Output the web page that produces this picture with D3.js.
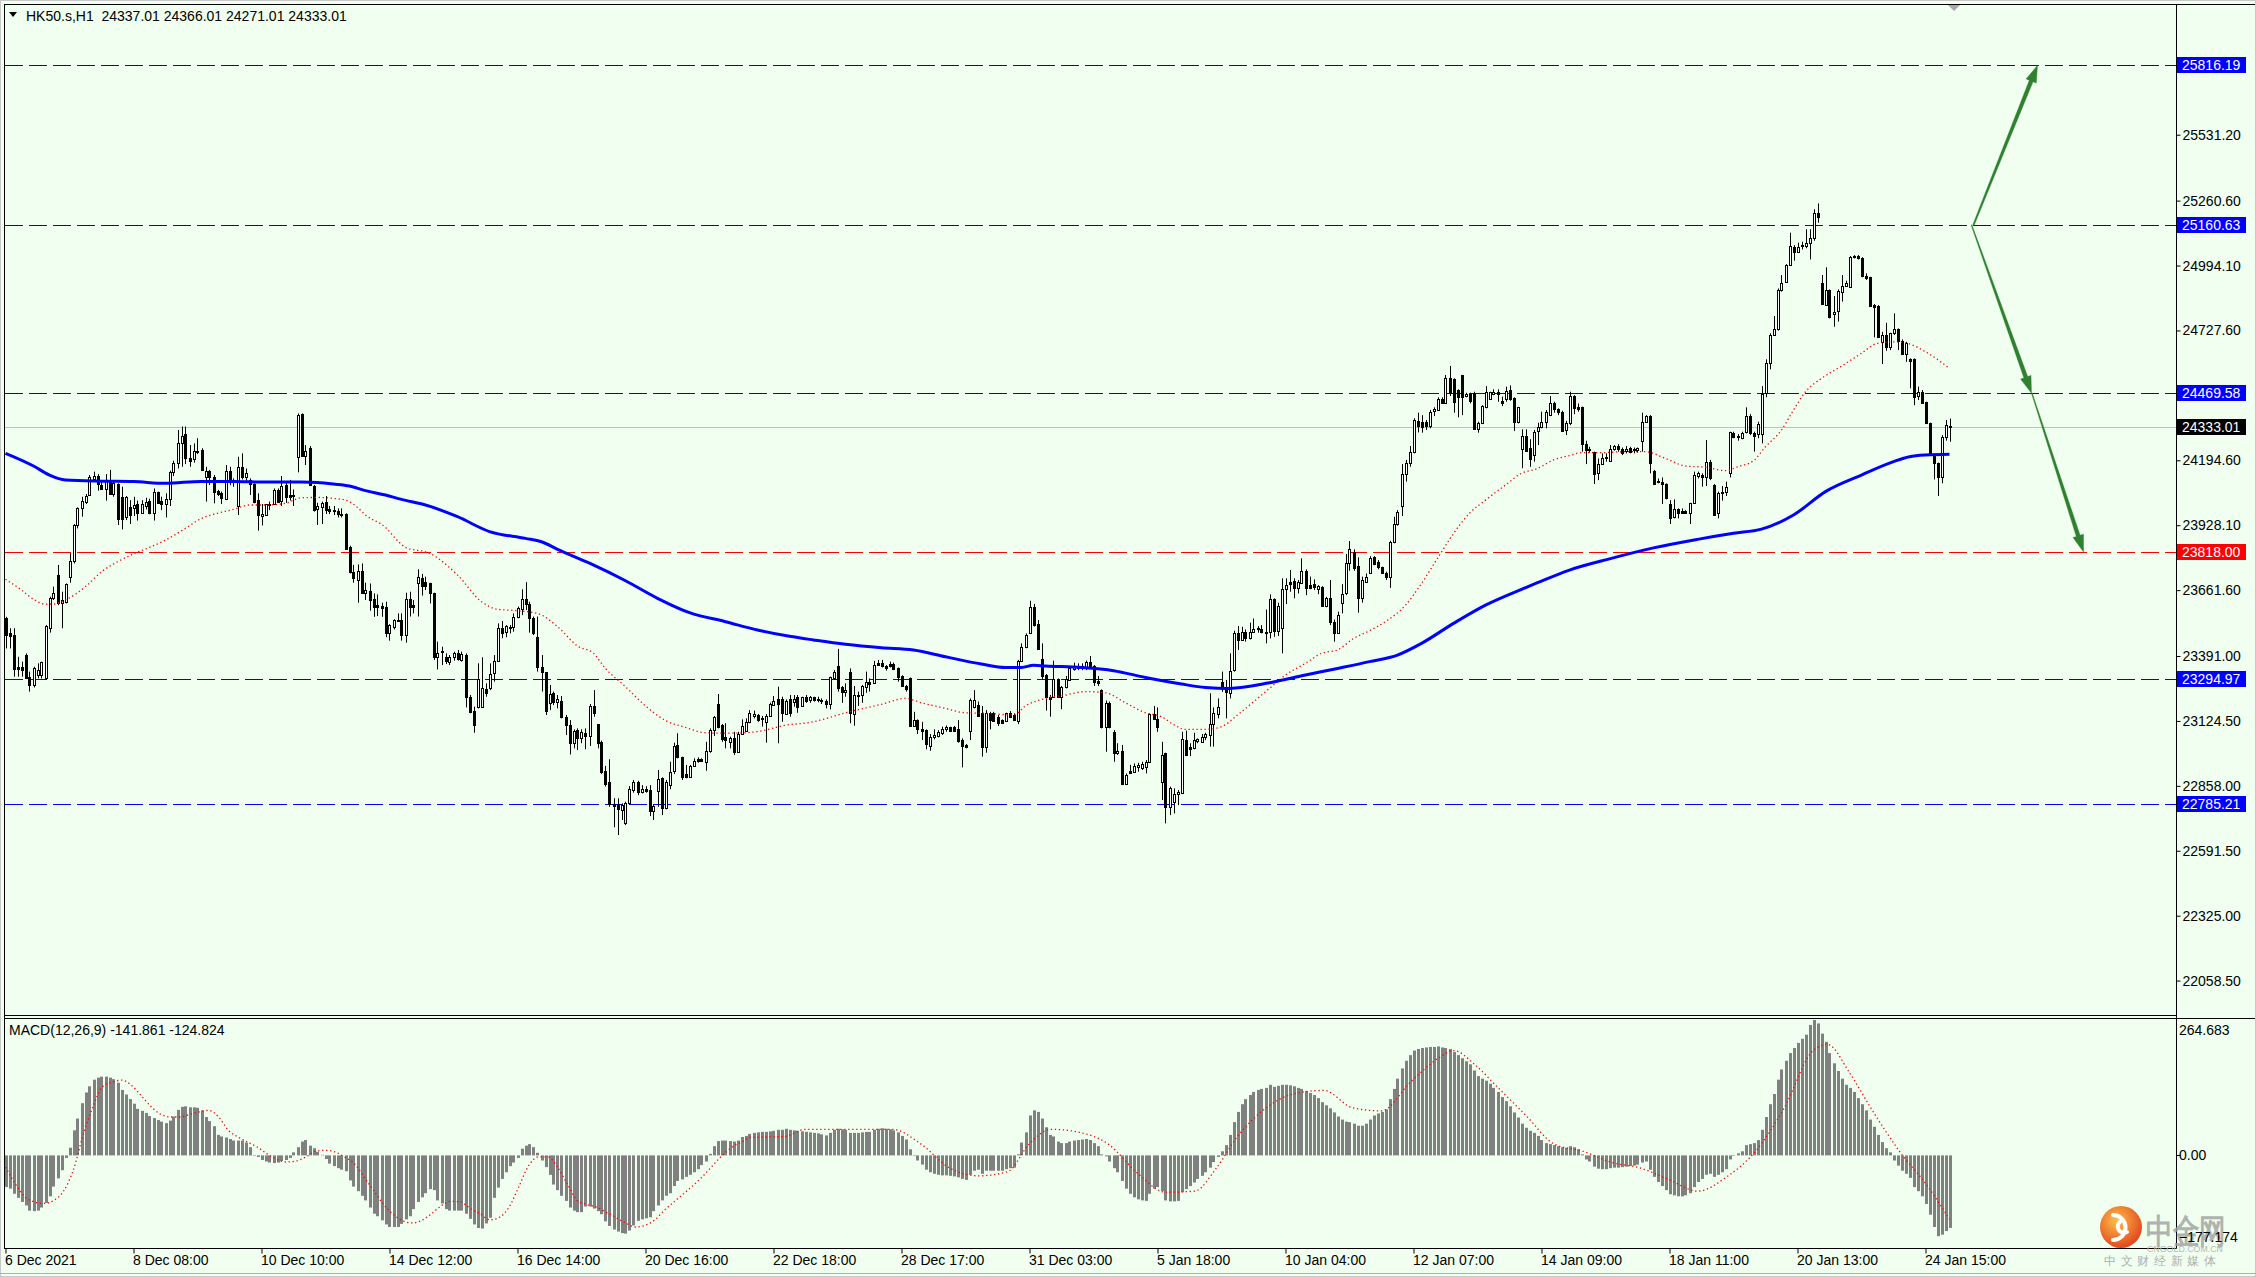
<!DOCTYPE html>
<html><head><meta charset="utf-8">
<script src="https://cdn.jsdelivr.net/npm/d3@7"></script>
<style>
body{margin:0;background:#F0FFF0;}
svg{display:block;}
text{font-family:"Liberation Sans",Arial,sans-serif;}
</style></head>
<body>
<script>
// ---------------- DATA ----------------
const symbolHeader = "HK50.s,H1  24337.01 24366.01 24271.01 24333.01";
const macdHeader = "MACD(12,26,9) -141.861 -124.824";

const opens = [
23546,23484,23477,23347,23347,23395,23303,23272,23313,23313,
23299,23507,23628,23724,23610,23614,23714,23782,23930,23997,
24023,24052,24119,24130,24093,24078,24109,24056,24097,24042,
23960,24001,24000,24014,23979,24007,24029,23977,24063,24026,
24014,24034,24146,24182,24264,24301,24203,24198,24234,24235,
24127,24151,24125,24070,24059,24036,24151,24114,24007,24166,
24125,24114,24097,24031,23966,23971,24016,24014,24073,24029,
24092,24051,24051,24209,24385,24212,24244,24089,23993,24004,
24025,23996,23990,23985,23975,23974,23839,23737,23703,23739,
23648,23656,23624,23602,23598,23592,23487,23511,23535,
23539,23477,23624,23600,23692,23710,23694,23689,23648,23386,
23413,23388,23368,23386,23402,23375,23395,23224,23165,23183,
23183,23254,23258,23320,23371,23505,23491,23506,23509,23553,
23583,23624,23603,23546,23468,23345,23324,23197,23241,23204,
23206,23139,23108,23035,23087,23053,23074,23063,23187,23112,
23039,22919,22875,22784,22782,22759,22707,22786,22841,22875,
22834,22844,22841,22756,22838,22889,22766,22861,22920,23026,
22975,22907,22896,22940,22967,22967,22957,23002,23087,23194,
23108,23057,23039,23053,22998,23071,23085,23119,23145,23149,
23138,23121,23145,23190,23213,23213,23153,
23213,23204,23221,23187,23224,23210,23221,23214,23210,23208,
23194,23299,23350,23262,23242,23324,23153,23227,23231,23265,
23286,23279,23361,23361,23350,23357,23357,23340,23309,23268,
23299,23105,23128,23090,23087,23023,23057,23063,23076,23090,
23101,23101,23090,23046,23026,23084,23183,23190,23158,23016,
23158,23156,23142,23128,23126,23156,23149,23126,23372,23427,
23484,23591,23522,23379,23313,23221,23224,23295,23224,23262,
23293,23336,23340,23340,23340,23368,23350,23290,23251,23101,
23199,23080,22991,23002,22866,22920,22916,22934,22930,22934,
22957,23153,23131,22875,22991,22772,22793,22823,
22827,23046,23016,23012,23043,23039,23057,23067,23112,23153,
23285,23258,23240,23334,23487,23457,23491,23467,23491,23507,
23502,23491,23491,23624,23495,23508,23665,23696,23699,23669,
23692,23741,23682,23685,23665,23676,23597,23630,23532,23487,
23610,23648,23774,23819,23760,23628,23696,23730,23796,23775,
23755,23730,23714,23860,23933,24008,24137,24185,24227,24356,
24353,24350,24335,24398,24401,24445,24431,24531,24527,24483,
24545,24458,24465,24472,24322,24346,24412,24445,24466,24476,
24439,24445,24483,24449,24350,24239,24294,24244,24216,24315,
24332,24353,24380,24428,24404,24394,24319,
24346,24458,24412,24415,24261,24239,24230,24141,24179,24202,
24193,24239,24253,24239,24234,24247,24237,24237,24275,24353,
24376,24152,24108,24107,24097,24015,23960,23993,23988,23988,
23979,24018,24130,24134,24124,24189,24093,23977,24059,24066,
24141,24308,24294,24285,24309,24378,24308,24302,24302,24469,
24592,24709,24732,24894,24928,24996,25071,25051,25074,25076,
25088,25106,25211,24924,24832,24894,24795,24809,24887,24910,
24904,25028,25033,25023,24951,24945,24832,24828,24681,24709,
24661,24716,24732,24686,24631,24609,24609,24458,24476,24432,
24346,24219,24182,24127,24291,24337.01];

const highs = [
23552,23505,23505,23388,23368,23402,23327,23347,23361,23368,
23518,23635,23676,23765,23655,23689,23813,23933,24001,24045,
24056,24134,24148,24138,24111,24138,24155,24107,24100,24086,
24048,24031,24045,24029,24031,24041,24037,24079,24066,24045,
24059,24152,24193,24319,24333,24333,24257,24264,24285,24244,
24168,24155,24134,24073,24066,24175,24168,24120,24209,24223,
24161,24120,24100,24059,24015,24015,24025,24079,24079,24130,
24103,24114,24075,24387,24387,24257,24253,24093,24020,24025,
24048,24007,24007,23997,23997,23977,23844,23765,23767,23771,
23692,23689,23648,23644,23610,23614,23522,23542,23566,
23566,23651,23655,23621,23747,23728,23717,23692,23651,23450,
23429,23402,23395,23409,23416,23409,23402,23231,23183,23361,
23386,23279,23361,23395,23525,23535,23518,23518,23566,23594,
23665,23694,23614,23553,23553,23395,23324,23272,23245,23231,
23227,23149,23128,23090,23094,23090,23094,23194,23251,23112,
23044,22940,22967,22807,22807,22786,22793,22857,22882,22879,
22861,22857,22861,22779,22923,22893,22882,22957,23035,23074,
22978,22944,22944,22971,22975,22971,23039,23094,23145,23235,
23112,23115,23060,23080,23080,23131,23135,23169,23167,23153,
23145,23153,23200,23227,23265,23224,23213,
23231,23231,23231,23224,23231,23227,23224,23224,23217,23213,
23306,23333,23420,23268,23279,23340,23268,23245,23272,23327,
23299,23371,23375,23375,23354,23368,23364,23344,23312,23272,
23303,23162,23131,23121,23090,23071,23090,23087,23101,23106,
23101,23104,23128,23053,23030,23217,23251,23204,23186,23169,
23162,23162,23149,23131,23158,23165,23156,23375,23443,23484,
23618,23605,23539,23443,23317,23231,23372,23299,23268,23309,
23350,23364,23361,23361,23372,23391,23354,23309,23254,23208,
23204,23087,23033,23026,22909,22944,22950,22953,22957,22964,
23156,23186,23180,23039,22994,22855,22848,22841,
23080,23085,23033,23076,23053,23071,23076,23238,23180,23217,
23327,23293,23402,23495,23514,23511,23500,23528,23545,23514,
23518,23582,23644,23628,23610,23710,23710,23744,23710,23703,
23792,23747,23717,23706,23682,23678,23634,23703,23541,23573,
23686,23810,23863,23829,23796,23717,23730,23801,23801,23785,
23758,23737,23864,23963,23990,24179,24196,24253,24367,24390,
24380,24360,24401,24412,24453,24453,24545,24582,24531,24486,
24545,24472,24472,24476,24353,24421,24499,24476,24486,24486,
24456,24497,24502,24453,24414,24322,24322,24281,24319,24349,
24394,24401,24458,24435,24408,24398,24356,
24476,24462,24428,24415,24275,24250,24230,24202,24223,24223,
24257,24257,24261,24247,24253,24250,24247,24247,24390,24380,
24380,24155,24120,24124,24100,24031,24034,23997,23997,23990,
24020,24148,24148,24141,24278,24196,24097,24066,24089,24107,
24312,24312,24302,24312,24412,24384,24312,24353,24499,24609,
24716,24787,24900,24955,25000,25129,25078,25088,25092,25143,
25143,25225,25249,24955,24987,24896,24869,24896,24955,24932,
25033,25037,25037,25028,24962,24948,24836,24832,24722,24759,
24718,24798,24736,24691,24681,24613,24613,24497,24483,24435,
24349,24223,24185,24298,24360,24366.01];

const lows = [
23422,23422,23306,23306,23306,23299,23245,23262,23299,23299,
23295,23487,23621,23600,23505,23607,23692,23771,23915,23963,
24015,24048,24107,24070,24073,24029,24052,24045,23929,23911,
23949,23933,23966,23947,23974,23993,23973,23947,24015,23990,
23960,24007,24130,24161,24168,24179,24168,24185,24220,24152,
24025,24093,24018,24048,24015,24031,24092,24086,23970,24116,
24107,24052,24018,23906,23927,23966,23990,24012,24020,24007,
24020,24029,24007,24145,24209,24175,24089,23984,23929,23933,
23974,23974,23970,23960,23960,23829,23730,23692,23610,23646,
23621,23577,23552,23555,23552,23468,23454,23500,23532,
23454,23446,23553,23566,23553,23639,23662,23607,23375,23336,
23354,23358,23354,23372,23372,23368,23180,23156,23076,23176,
23180,23224,23251,23286,23368,23464,23468,23484,23491,23546,
23559,23580,23487,23477,23327,23245,23149,23169,23190,23176,
23135,23067,22987,23012,23005,23033,23008,23022,23142,23012,
22907,22855,22772,22688,22656,22718,22697,22784,22830,22820,
22827,22830,22734,22718,22772,22738,22762,22844,22907,22971,
22882,22889,22893,22937,22953,22957,22920,22994,23063,23094,
23039,23012,23012,22985,22994,23067,23080,23115,23135,23121,
23101,23035,23142,23186,23033,23121,23149,
23142,23183,23158,23183,23199,23199,23204,23201,23194,23176,
23172,23293,23245,23199,23224,23115,23105,23186,23199,23240,
23245,23276,23350,23344,23331,23344,23333,23286,23265,23245,
23101,23101,23071,23046,23008,23002,23049,23057,23067,23080,
23080,23080,23035,22934,23012,23046,23176,23142,22978,22994,
23090,23121,23104,23112,23121,23138,23126,23112,23368,23423,
23481,23512,23416,23295,23167,23142,23221,23221,23173,23258,
23290,23331,23333,23333,23333,23340,23268,23268,23094,22998,
23094,22957,22985,22861,22861,22907,22912,22916,22923,22909,
22953,23128,23080,22800,22704,22738,22745,22779,
22824,22980,22980,23008,23033,23035,23046,23019,23019,23135,
23244,23135,23217,23327,23416,23454,23450,23459,23487,23487,
23484,23443,23463,23470,23473,23402,23604,23655,23628,23648,
23689,23641,23665,23662,23645,23596,23591,23518,23450,23484,
23566,23641,23741,23741,23569,23610,23692,23728,23764,23747,
23728,23703,23671,23854,23926,23966,24107,24168,24223,24309,
24308,24319,24326,24376,24398,24428,24426,24458,24390,24371,
24380,24453,24428,24319,24308,24343,24408,24442,24462,24435,
24417,24435,24439,24315,24346,24162,24230,24168,24189,24257,
24326,24326,24376,24390,24380,24312,24298,
24339,24384,24394,24230,24179,24226,24097,24113,24175,24189,
24189,24234,24230,24216,24223,24223,24223,24226,24230,24349,
24141,24093,24100,24015,24034,23933,23956,23956,23977,23977,
23933,24015,24120,24086,24089,24113,23966,23956,24029,24048,
24124,24285,24275,24281,24305,24298,24230,24285,24264,24453,
24568,24706,24727,24887,24924,24992,25014,25047,25060,25065,
25019,25096,25170,24832,24828,24777,24743,24764,24846,24907,
24902,25023,25019,24946,24935,24825,24699,24699,24590,24644,
24647,24709,24647,24627,24599,24490,24421,24442,24428,24343,
24212,24116,24048,24100,24275,24271.01];

const closes = [
23477,23473,23336,23336,23334,23299,23272,23340,23334,23365,
23514,23628,23651,23610,23621,23687,23782,23930,23999,24029,
24049,24127,24131,24097,24075,24109,24056,24100,23955,23955,
24042,23971,24012,23977,24014,24025,23977,24063,24018,24014,
24034,24148,24182,24264,24296,24203,24193,24233,24229,24155,
24149,24125,24066,24055,24038,24151,24104,24104,24166,24125,
24144,24097,24025,23970,23974,24014,24011,24073,24025,24089,
24045,24045,24047,24380,24213,24234,24093,23990,24007,24018,
23990,23988,23985,23975,23970,23830,23737,23710,23739,23651,
23662,23621,23594,23591,23589,23487,23517,23537,23539,
23477,23624,23594,23591,23714,23680,23680,23648,23388,23405,
23406,23372,23386,23402,23377,23399,23224,23163,23108,23295,
23258,23241,23317,23371,23505,23484,23514,23512,23553,23587,
23624,23603,23546,23484,23345,23324,23167,23234,23204,23213,
23139,23108,23035,23085,23053,23080,23063,23187,23156,23035,
22916,22864,22782,22777,22762,22779,22789,22844,22875,22834,
22844,22838,22756,22775,22885,22768,22875,22916,23022,22975,
22893,22896,22940,22961,22961,22959,23002,23087,23142,23101,
23049,23046,23053,22998,23071,23104,23121,23156,23153,23128,
23132,23145,23194,23208,23194,23156,23208,
23156,23214,23183,23221,23208,23221,23210,23210,23206,23193,
23303,23324,23258,23242,23251,23156,23231,23231,23268,23283,
23276,23354,23354,23350,23343,23350,23338,23306,23268,23254,
23104,23128,23090,23084,23028,23057,23067,23080,23091,23101,
23084,23084,23042,23023,23016,23210,23210,23146,23019,23158,
23128,23126,23117,23115,23156,23142,23128,23371,23427,23477,
23591,23518,23420,23310,23221,23213,23295,23224,23265,23295,
23340,23347,23347,23350,23368,23344,23286,23282,23101,23199,
23098,22991,23000,22866,22902,22912,22939,22944,22946,22957,
23153,23131,23101,22985,22772,22848,22824,22833,
23049,22985,23008,23046,23049,23060,23071,23112,23156,23183,
23258,23244,23331,23487,23457,23491,23463,23491,23504,23500,
23491,23488,23624,23495,23596,23665,23682,23687,23669,23696,
23741,23669,23671,23676,23678,23597,23628,23529,23487,23559,
23645,23771,23829,23751,23628,23703,23714,23792,23769,23755,
23730,23714,23858,23933,23984,24137,24185,24230,24360,24335,
24332,24335,24394,24404,24445,24431,24531,24469,24435,24456,
24456,24465,24439,24322,24346,24417,24473,24473,24473,24466,
24428,24480,24445,24353,24412,24294,24234,24198,24312,24332,
24353,24394,24428,24404,24394,24316,24349,
24458,24408,24404,24261,24237,24237,24138,24179,24205,24209,
24239,24253,24239,24223,24239,24230,24239,24243,24350,24376,
24185,24097,24104,24097,24038,23956,23993,23977,23977,23979,
24018,24134,24143,24124,24189,24120,23970,24061,24066,24083,
24309,24289,24291,24308,24378,24308,24294,24342,24467,24592,
24709,24732,24894,24924,24996,25074,25051,25069,25078,25088,
25106,25211,25192,24835,24894,24781,24805,24889,24911,24921,
25028,25033,25023,24951,24941,24828,24825,24702,24707,24658,
24716,24732,24686,24631,24677,24603,24456,24476,24431,24346,
24216,24185,24124,24291,24339,24333.01];

// Moving averages (bar index, value)
const maSlowBars = [0,7,11,15,24,32,40,49,57,65,74,78,82,86,90,95,99,105,113,121,130,134,138,146,155,163,171,180,188,196,202,210,219,227,235,244,250,254,257,260,269,277,285,294,300,306,316,325,333,341,348,354,362,370,379,383,391,401,412,423,432,439,447,455,464,472,476,480,486];
const maSlowVals = [24223,24171,24134,24114,24109,24107,24100,24108,24108,24105,24105,24103,24097,24089,24070,24052,24034,24011,23963,23902,23874,23860,23829,23772,23700,23628,23569,23532,23498,23472,23457,23439,23425,23416,23388,23358,23344,23344,23353,23350,23344,23331,23303,23276,23262,23258,23281,23313,23340,23368,23395,23443,23525,23600,23665,23692,23744,23790,23835,23870,23895,23912,23970,24066,24134,24189,24209,24216,24219];

const maFastBars = [0,4,7,10,12,15,20,24,28,32,36,40,45,49,53,57,61,65,70,74,78,82,85,88,90,95,98,100,106,113,119,123,128,133,138,143,147,150,155,160,165,170,175,180,185,190,194,202,210,219,225,229,235,240,245,252,255,260,265,270,275,280,285,289,292,295,300,304,308,312,316,320,325,329,333,337,341,345,350,354,358,362,366,370,375,379,383,387,391,394,399,405,410,415,420,425,430,433,437,440,444,447,450,454,459,464,468,472,476,480,486];
const maFastVals = [23706,23662,23624,23604,23604,23621,23676,23737,23778,23810,23837,23867,23915,23956,23977,23993,24011,24011,24018,24041,24042,24038,24031,24001,23970,23919,23865,23837,23813,23724,23614,23583,23577,23566,23512,23432,23402,23340,23265,23186,23126,23098,23076,23074,23076,23087,23104,23121,23158,23193,23217,23199,23176,23158,23156,23149,23186,23217,23231,23245,23240,23199,23158,23142,23110,23090,23090,23101,23149,23203,23258,23313,23361,23402,23416,23463,23495,23532,23600,23689,23792,23894,23977,24031,24093,24141,24161,24196,24214,24226,24226,24230,24230,24202,24171,24166,24152,24168,24193,24250,24319,24401,24476,24531,24581,24634,24675,24681,24672,24640,24572];

// MACD main (histogram), one value per bar
const macdMain = [
-62,-65,-75,-83,-91,-98,-108,-109,-108,-102,
-93,-80,-61,-45,-29,-5,15,49,72,102,
123,135,148,152,154,154,152,149,142,128,
119,110,101,91,87,83,77,73,69,66,
63,68,76,89,95,96,94,94,93,88,
75,67,57,40,37,35,32,29,29,29,
25,16,-1,-3,-9,-12,-14,-15,-14,-11,
-9,-5,6,16,27,30,19,14,7,1,
-7,-16,-21,-25,-28,-31,-49,-61,-70,-79,
-88,-102,-114,-119,-127,-135,-140,-140,-140,-134,
-125,-119,-105,-91,-82,-74,-66,-68,-88,-94,
-105,-108,-108,-108,-108,-114,-124,-135,-142,-143,
-133,-122,-83,-63,-46,-33,-21,-14,-5,13,
19,22,16,5,-10,-23,-38,-57,-68,-79,
-89,-102,-108,-111,-111,-100,-100,-104,-109,-115,
-129,-138,-145,-149,-152,-153,-147,-137,-128,-125,
-123,-121,-109,-98,-88,-79,-74,-60,-50,-47,
-42,-38,-33,-27,-19,-12,3,18,28,29,
29,28,27,29,36,38,42,44,
45,46,46,47,48,50,50,52,50,49,48,47,
46,45,44,43,41,39,44,50,52,51,
50,44,44,44,45,46,46,50,52,53,
52,51,49,45,38,31,12,0,-10,-18,
-28,-33,-36,-38,-39,-39,-40,-41,-43,-46,
-48,-38,-30,-28,-36,-30,-30,-30,-30,-30,
-27,-25,-24,2,25,45,78,88,85,72,
55,40,37,27,24,24,27,29,30,31,
32,30,24,18,2,-2,-12,-25,-33,-50,
-65,-75,-82,-86,-88,-89,-75,-65,-62,-70,
-88,-90,-90,-89,-72,-66,-60,-53,-46,-40,
-33,-24,-13,-3,8,20,40,65,85,100,
110,118,124,128,130,132,138,134,136,138,
138,137,135,132,130,126,122,118,112,104,
98,92,84,76,70,66,65,62,58,58,
62,70,78,82,85,90,110,130,150,170,
185,196,205,208,210,211,212,212,213,211,
210,208,202,196,190,184,178,166,155,150,
146,140,132,124,114,106,96,84,74,62,
54,48,44,38,30,24,22,20,18,16,
15,18,16,12,2,-8,-12,-22,-26,-27,
-27,-25,-24,-24,-23,-22,-21,-20,-18,-14,
-12,-28,-42,-52,-60,-68,-76,-78,-80,-80,
-78,-74,-62,-52,-46,-38,-36,-42,-38,-33,
-27,-8,0,4,8,20,22,24,30,50,
75,100,120,148,168,185,200,210,220,228,
236,255,264.683,258,238,222,200,180,165,150,
138,132,124,112,100,88,70,56,40,26,
14,6,-10,-20,-30,-36,-44,-62,-70,-80,
-95,-116,-140,-158,-155,-148,-141.861];

// MACD signal line (bar index, value)
const signalBars = [0,2.4,4.8,7.3,9.7,12.1,14.5,16.9,19.4,21.8,24.2,26.6,29.1,31.5,33.9,36.3,38.7,41.2,43.6,46,48.4,50.8,53.3,55.7,58.1,60.5,63,65.4,67.8,70.2,72.6,75.1,77.5,79.9,82.3,84.7,87.2,89.6,92,94.4,96.9,99.3,101.7,104.1,106.5,109,111.4,113.8,116.2,118.6,121.1,123.5,125.9,128.3,130.8,133.2,135.6,138,140.4,142.9,145.3,147.7,150.1,152.5,155,157.4,159.8,162.2,164.6,167.1,169.5,171.9,174.3,176.8,179.2,181.6,184,186.4,194.7,200.1,207.3,214.5,221.7,228.9,236.1,243.3,250.5,255.9,261.3,268.5,275.7,282.9,290.1,297.3,302.7,308,315.2,322.4,329.6,336.8,344,351.2,358.4,362,367.4,372.8,380,387.2,394.4,401.6,408.8,416,423.1,430.3,437.5,444.7,451.9,455.5,460.9,466.3,473.5,480.7,486];
const signalVals = [-23,-55,-81,-91,-94,-88,-70,-30,40,94,134,143,147,137,117,96,81,75,75,80,85,88,75,49,36,26,16,3,-8,-13,-11,-3,8,10,7,-3,-16,-42,-68,-95,-115,-128,-132,-127,-114,-98,-90,-91,-104,-114,-126,-121,-101,-62,-20,-3,-3,-23,-55,-88,-96,-101,-111,-121,-132,-140,-137,-127,-108,-91,-75,-59,-41,-20,0,16,26,35,37,51,51,51,51,22,-25,-40,-32,22,51,45,22,-34,-72,-70,-25,37,93,121,127,93,87,143,191,205,177,135,79,22,8,-14,-25,-48,-70,-42,8,93,205,217,163,93,8,-62,-124.824];

const priceTicks = [25531.20,25260.60,24994.10,24727.60,24194.60,23928.10,23661.60,23391.00,23124.50,22858.00,22591.50,22325.00,22058.50];
const levelValues = [25816.19,25160.63,24469.58,23818.00,23294.97,22785.21];
const levelColors = ["#0000FF","#0000FF","#0000FF","#FF0000","#0000FF","#0000FF"];
const currentPrice = 24333.01;
const timeLabelBars = [0,32,64,96,128,160,192,224,256,288,320,352,384,416,448,480];
const timeLabels = ["6 Dec 2021","8 Dec 08:00","10 Dec 10:00","14 Dec 12:00","16 Dec 14:00","20 Dec 16:00","22 Dec 18:00","28 Dec 17:00","31 Dec 03:00","5 Jan 18:00","10 Jan 04:00","12 Jan 07:00","14 Jan 09:00","18 Jan 11:00","20 Jan 13:00","24 Jan 15:00"];
const macdRange = [-177.174, 264.683];
// Forecast arrows: [fromBar, fromPrice, toBar, toPrice]
const arrows = [[492,25160.63,508,25816.19],[491.5,25160.63,506.5,24469.58],[506.6,24469.58,519.5,23818.00]];
const watermark = {title:"中金网", site:"CNGOLD.COM.CN", slogan:"中文财经新媒体"};

// ---------------- LAYOUT ----------------
const W = 2256, H = 1277;
const axisX = 2176.5;
const mainTop = 4.5, mainBottom = 1015.5, macdTop = 1019, macdBottom = 1248.5;
const svg = d3.select("body").append("svg").attr("width", W).attr("height", H);
svg.append("rect").attr("width", W).attr("height", H).attr("fill", "#F0FFF0");

const x = d3.scaleLinear().domain([0, 486]).range([5.5, 1949.5]);
const y = d3.scaleLinear().domain([21917.3, 26063.7]).range([1015, 5]);
const yM = d3.scaleLinear().domain(macdRange).range([1246, 1020]);

const defs = svg.append("defs");
defs.append("clipPath").attr("id","clipMain").append("rect").attr("x",5).attr("y",5).attr("width",axisX-5).attr("height",mainBottom-5);
defs.append("clipPath").attr("id","clipMacd").append("rect").attr("x",5).attr("y",macdTop+0.5).attr("width",axisX-5).attr("height",macdBottom-macdTop-1);

const gMain = svg.append("g").attr("clip-path","url(#clipMain)");
const gMacd = svg.append("g").attr("clip-path","url(#clipMacd)");

// levels
levelValues.forEach((v,i)=>{
  const yy = Math.round(y(v))+0.5;
  gMain.append("line").attr("x1",5).attr("x2",axisX).attr("y1",yy).attr("y2",yy)
    .attr("stroke",levelColors[i]).attr("stroke-width",1).attr("stroke-dasharray","18,6");
});
{
  const yy = Math.round(y(currentPrice))+0.5;
  gMain.append("line").attr("x1",5).attr("x2",axisX).attr("y1",yy).attr("y2",yy).attr("stroke","#C0C0C0").attr("stroke-width",1);
}

// candles
const n = Math.min(opens.length, highs.length, lows.length, closes.length);
const candles = d3.range(n).map(i=>({i,o:opens[i],h:highs[i],l:lows[i],c:closes[i]}));
const cg = gMain.append("g");
candles.forEach(d=>{
  const cx = Math.round(x(d.i))+0.5;
  cg.append("line").attr("x1",cx).attr("x2",cx).attr("y1",y(d.h)).attr("y2",y(d.l)).attr("stroke","#000").attr("stroke-width",1);
  const top = Math.round(y(Math.max(d.o,d.c))), bot = Math.round(y(Math.min(d.o,d.c)));
  if (d.c >= d.o) {
    cg.append("rect").attr("x",cx-1).attr("y",top+0.5).attr("width",2).attr("height",Math.max(bot-top,1))
      .attr("fill","#FFFFFF").attr("stroke","#000").attr("stroke-width",1);
  } else {
    cg.append("rect").attr("x",cx-1.5).attr("y",top).attr("width",3).attr("height",Math.max(bot-top,1)+1).attr("fill","#000");
  }
});

// MAs
const lineGen = d3.line().x(d=>x(d[0])).y(d=>y(d[1])).curve(d3.curveMonotoneX);
gMain.append("path").datum(maFastBars.map((b,i)=>[b,maFastVals[i]])).attr("d",lineGen)
  .attr("fill","none").attr("stroke","#FF0000").attr("stroke-width",1.3).attr("stroke-dasharray","1.3,2.7");
gMain.append("path").datum(maSlowBars.map((b,i)=>[b,maSlowVals[i]])).attr("d",lineGen)
  .attr("fill","none").attr("stroke","#0000FF").attr("stroke-width",3);

// arrows
function taper(x0,y0,x1,y1,w0,w1,hl,hw){
  const dx=x1-x0, dy=y1-y0, L=Math.hypot(dx,dy), ux=dx/L, uy=dy/L, nx=-uy, ny=ux;
  const bx=x1-ux*hl, by=y1-uy*hl;
  const p=[[x0+nx*w0/2,y0+ny*w0/2],[bx+nx*w1/2,by+ny*w1/2],[bx+nx*hw,by+ny*hw],[x1,y1],[bx-nx*hw,by-ny*hw],[bx-nx*w1/2,by-ny*w1/2],[x0-nx*w0/2,y0-ny*w0/2]];
  return "M"+p.map(q=>q[0].toFixed(1)+","+q[1].toFixed(1)).join("L")+"Z";
}
arrows.forEach((a,k)=>{
  const w0 = k===0 ? 1.6 : 0.8;
  gMain.append("path").attr("d",taper(x(a[0]),y(a[1]),x(a[2]),y(a[3]),w0,4,17,5.5))
    .attr("fill","#2F802F").attr("stroke","#2F802F").attr("stroke-width",0.4).attr("stroke-linejoin","round");
});

// chart shift marker
svg.append("path").attr("d","M1948,5L1960,5L1954,11Z").attr("fill","#A9A9A9");

// MACD histogram + signal
{
  const z = yM(0);
  macdMain.forEach((v,i)=>{
    const cx = Math.round(x(i));
    const yy = yM(v);
    gMacd.append("rect").attr("x",cx-1).attr("y",Math.min(yy,z)).attr("width",3)
      .attr("height",Math.max(Math.abs(z-yy),0.5)).attr("fill","#808080");
  });
  gMacd.append("path").datum(signalBars.map((b,i)=>[b,signalVals[i]]))
    .attr("d",d3.line().x(d=>x(d[0])).y(d=>yM(d[1])).curve(d3.curveMonotoneX))
    .attr("fill","none").attr("stroke","#FF0000").attr("stroke-width",1.3).attr("stroke-dasharray","1.3,2.7");
}

// frames
const fr = svg.append("g").attr("stroke","#000").attr("stroke-width",1).attr("fill","none");
fr.append("line").attr("x1",4).attr("x2",W).attr("y1",mainTop).attr("y2",mainTop);
fr.append("line").attr("x1",4.5).attr("x2",4.5).attr("y1",4).attr("y2",macdBottom);
fr.append("line").attr("x1",axisX).attr("x2",axisX).attr("y1",4).attr("y2",macdBottom);
fr.append("line").attr("x1",4).attr("x2",axisX).attr("y1",mainBottom).attr("y2",mainBottom);
fr.append("line").attr("x1",4).attr("x2",W).attr("y1",macdTop-0.5).attr("y2",macdTop-0.5);
fr.append("line").attr("x1",4).attr("x2",axisX).attr("y1",macdBottom).attr("y2",macdBottom);
svg.append("rect").attr("x",0.5).attr("y",0.5).attr("width",W-1).attr("height",H-1).attr("fill","none").attr("stroke","#C8C8C8");
svg.append("line").attr("x1",0).attr("x2",W).attr("y1",H-3.5).attr("y2",H-3.5).attr("stroke","#B0B0B0");

// price axis
const pa = svg.append("g").attr("transform",`translate(${axisX},0)`)
  .call(d3.axisRight(y).tickValues(priceTicks).tickFormat(d3.format(".2f")).tickSize(4).tickPadding(2));
pa.select(".domain").remove();
pa.selectAll("text").attr("font-size",14).attr("fill","#000").attr("font-family","Liberation Sans, Arial, sans-serif");
pa.selectAll("line").attr("stroke","#000");

// level labels
function tagLabel(v, bg){
  const yy = y(v);
  svg.append("rect").attr("x",2177).attr("y",Math.round(yy)-8).attr("width",69).attr("height",16).attr("fill",bg);
  svg.append("text").attr("x",2182).attr("y",yy).attr("dy","0.36em").attr("font-size",14).attr("fill","#FFFFFF").text(d3.format(".2f")(v));
}
levelValues.forEach((v,i)=>tagLabel(v, levelColors[i]));
tagLabel(currentPrice, "#000000");

// watermark logo (behind the macd axis labels, as in the reference)
const wm = svg.append("g");
const grad = defs.append("radialGradient").attr("id","lg").attr("cx","40%").attr("cy","35%").attr("r","70%");
grad.append("stop").attr("offset","0%").attr("stop-color","#FFC04A");
grad.append("stop").attr("offset","100%").attr("stop-color","#E0401C");
wm.append("circle").attr("cx",2121).attr("cy",1227).attr("r",21).attr("fill","url(#lg)");
wm.append("path").attr("d","M2113,1215 A11,11 0 1 1 2113,1240 M2121,1221 A6,6 0 1 0 2127,1232").attr("fill","none").attr("stroke","#FFFFFF").attr("stroke-width",4).attr("stroke-linecap","round");
wm.append("text").attr("x",2146).attr("y",1243).attr("font-size",34).attr("font-weight","bold").attr("fill","#A0A0A0").attr("opacity",0.8)
  .attr("textLength",80).attr("lengthAdjust","spacingAndGlyphs").attr("font-family","Noto Sans CJK SC, sans-serif").text(watermark.title);
wm.append("text").attr("x",2147).attr("y",1252).attr("font-size",9).attr("fill","#B8B8B8").attr("textLength",76).attr("lengthAdjust","spacingAndGlyphs").text(watermark.site);
wm.append("text").attr("x",2104).attr("y",1265).attr("font-size",12).attr("fill","#AFAFAF").attr("textLength",112).attr("lengthAdjust","spacing").attr("font-family","Noto Sans CJK SC, sans-serif").text(watermark.slogan);

// macd axis labels
svg.append("text").attr("x",2179).attr("y",yM(macdRange[1])+10).attr("dy","0.36em").attr("font-size",14).text(d3.format(".3f")(macdRange[1]));
svg.append("text").attr("x",2179).attr("y",yM(0)).attr("dy","0.36em").attr("font-size",14).text("0.00");
svg.append("line").attr("x1",axisX).attr("x2",axisX+4).attr("y1",Math.round(yM(0))+0.5).attr("y2",Math.round(yM(0))+0.5).attr("stroke","#000");
svg.append("text").attr("x",2179).attr("y",yM(macdRange[0])-9).attr("dy","0.36em").attr("font-size",14).text(d3.format(".3f")(macdRange[0]));

// time axis
const ta = svg.append("g").attr("transform",`translate(0,${macdBottom})`)
  .call(d3.axisBottom(x).tickValues(timeLabelBars).tickFormat((d,i)=>timeLabels[i]).tickSize(5).tickPadding(2));
ta.select(".domain").remove();
ta.selectAll("line").attr("stroke","#000");
ta.selectAll("text").attr("text-anchor","start").attr("dx","-1").attr("font-size",14).attr("fill","#000").attr("font-family","Liberation Sans, Arial, sans-serif");

// headers
svg.append("path").attr("d","M9,12L17,12L13,17Z").attr("fill","#000");
svg.append("text").attr("x",26).attr("y",21).attr("font-size",14).style("white-space","pre").text(symbolHeader);
svg.append("text").attr("x",9).attr("y",1035).attr("font-size",14).text(macdHeader);
</script>
</body></html>
